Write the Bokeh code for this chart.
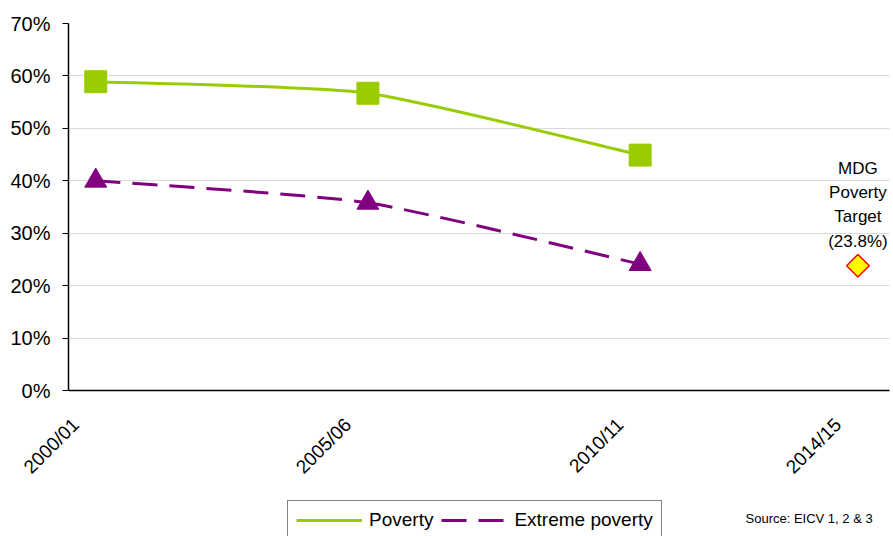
import math
from bokeh.plotting import figure
from bokeh.layouts import column
from bokeh.models import (ColumnDataSource, FixedTicker, PrintfTickFormatter,
                          CustomJSTickFormatter, Legend, LegendItem, Label, Range1d)
from bokeh.embed import file_html
from bokeh.resources import INLINE

# ---- data ----
years = [2000, 2005, 2010]
tick_years = [2000, 2005, 2010, 2014]
tick_labels = ["2000/01", "2005/06", "2010/11", "2014/15"]
poverty = [58.9, 56.7, 44.9]
extreme = [40.0, 35.8, 24.1]
target_year = [2014]
target = [23.8]
target_text = "MDG\nPoverty\nTarget\n(23.8%)"
source_text = "Source:  EICV 1, 2 & 3"
series_names = ["Poverty", "Extreme poverty"]

GREEN = "#99CC00"
PURPLE = "#800080"
FONT = "Liberation Sans"
TENSION = 1.0 / 10.0
LABEL_SHIFT = 0.37   # rotated labels end slightly left of their category, as in Excel
DASH = "25 12"


def smooth_segments(xs, ys):
    """Smoothed-line Bezier control points derived from the data."""
    n = len(xs)
    d = dict(x0=[], y0=[], x1=[], y1=[], cx0=[], cy0=[], cx1=[], cy1=[])
    for i in range(n - 1):
        a = max(i - 1, 0)
        b = min(i + 2, n - 1)
        d["x0"].append(xs[i]); d["y0"].append(ys[i])
        d["x1"].append(xs[i + 1]); d["y1"].append(ys[i + 1])
        d["cx0"].append(xs[i] + (xs[i + 1] - xs[a]) * TENSION)
        d["cy0"].append(ys[i] + (ys[i + 1] - ys[a]) * TENSION)
        d["cx1"].append(xs[i + 1] - (xs[b] - xs[i]) * TENSION)
        d["cy1"].append(ys[i + 1] - (ys[b] - ys[i]) * TENSION)
    return ColumnDataSource(d)


p = figure(width=893, height=500, output_backend="svg", toolbar_location=None,
           x_range=Range1d(1999.5, 2014.58), y_range=Range1d(0, 70),
           min_border_left=68, min_border_right=4, min_border_top=23,
           min_border_bottom=110)
p.outline_line_color = None
p.background_fill_color = "white"
p.border_fill_color = "white"

# grid
p.xgrid.grid_line_color = None
p.ygrid.grid_line_color = "#D9D9D9"
p.ygrid.grid_line_width = 1
p.ygrid.ticker = FixedTicker(ticks=list(range(0, 71, 10)))

# axes
p.yaxis.ticker = FixedTicker(ticks=list(range(0, 71, 10)))
p.yaxis.formatter = PrintfTickFormatter(format="%d%%")
p.yaxis.minor_tick_line_color = None
p.yaxis.major_tick_in = 0
p.yaxis.major_tick_out = 6
p.yaxis.major_label_standoff = 12
p.yaxis.axis_line_color = "black"
p.yaxis.axis_line_width = 1.5
p.yaxis.major_tick_line_color = "black"
p.yaxis.major_label_text_font_size = "20px"

p.xaxis.ticker = FixedTicker(ticks=[t - LABEL_SHIFT for t in tick_years])
p.xaxis.formatter = CustomJSTickFormatter(args=dict(labels=tick_labels),
                                          code="return labels[index];")
p.xaxis.major_tick_line_color = None
p.xaxis.minor_tick_line_color = None
p.xaxis.major_label_orientation = math.pi / 4
p.xaxis.major_label_standoff = 25
p.xaxis.axis_line_color = "black"
p.xaxis.axis_line_width = 1.5
p.xaxis.major_label_text_font_size = "19px"

for ax in (p.xaxis, p.yaxis):
    ax.major_label_text_font = FONT
    ax.major_label_text_color = "black"

# smoothed lines
p.bezier(x0="x0", y0="y0", x1="x1", y1="y1", cx0="cx0", cy0="cy0",
         cx1="cx1", cy1="cy1", source=smooth_segments(years, poverty),
         line_color=GREEN, line_width=3)
p.bezier(x0="x0", y0="y0", x1="x1", y1="y1", cx0="cx0", cy0="cy0",
         cx1="cx1", cy1="cy1", source=smooth_segments(years, extreme),
         line_color=PURPLE, line_width=3, line_dash=DASH)

# markers
p.scatter(years, poverty, marker="square", size=22, fill_color=GREEN, line_color=GREEN)
p.scatter(years, extreme, marker="triangle", size=22, fill_color=PURPLE, line_color=PURPLE)
p.scatter(target_year, target, marker="square", size=16, angle=math.pi / 4,
          fill_color="#FFFF00", line_color="#FF0000", line_width=1.5)

# target label
p.add_layout(Label(x=target_year[0], y=target[0], text=target_text, y_offset=15,
                   text_align="center", text_baseline="bottom",
                   text_font=FONT, text_font_size="17px", text_color="black",
                   text_line_height=1.28))

# ---- bottom strip: legend + source (frame aligned with the chart's frame) ----
q = figure(width=893, height=36, output_backend="svg", toolbar_location=None,
           x_range=Range1d(68, 889), y_range=Range1d(0, 36),
           x_axis_location=None, y_axis_location=None,
           min_border_left=68, min_border_right=4, min_border_top=0,
           min_border_bottom=0)
q.outline_line_color = None
q.grid.grid_line_color = None
q.background_fill_color = "white"
q.border_fill_color = "white"

# legend proxies: lines kept outside the visible range
leg_pov = q.line(x=[-20, -10], y=[-20, -20], line_color=GREEN, line_width=3)
leg_ext = q.line(x=[-20, -10], y=[-20, -20], line_color=PURPLE, line_width=3,
                 line_dash=DASH)

legend = Legend(items=[LegendItem(label=series_names[0], renderers=[leg_pov]),
                       LegendItem(label=series_names[1], renderers=[leg_ext])],
                orientation="horizontal", location=(219, -4),
                label_text_font=FONT, label_text_font_size="19px",
                label_text_color="black", glyph_width=66, glyph_height=20,
                label_height=20, label_standoff=7, spacing=8, padding=8,
                margin=0, border_line_color="black", border_line_width=1,
                background_fill_color="white", background_fill_alpha=1)
q.add_layout(legend, "center")

q.add_layout(Label(x=745, y=18, text=source_text, text_align="left",
                   text_baseline="middle", text_font=FONT, text_font_size="13px",
                   text_color="black"))

layout = column(p, q, spacing=0)
open("out.html", "w").write(file_html(layout, INLINE))
